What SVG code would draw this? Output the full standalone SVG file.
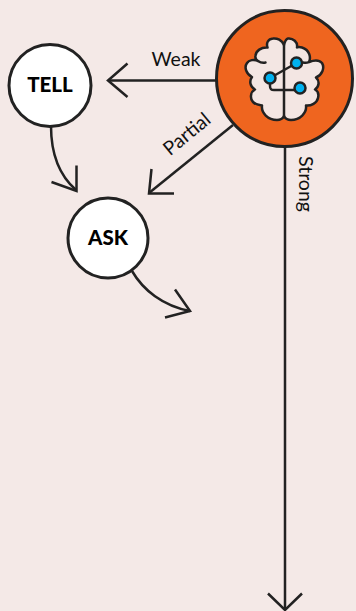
<svg xmlns="http://www.w3.org/2000/svg" width="356" height="611" viewBox="0 0 356 611">
<style>
.l{fill:none;stroke:#222;stroke-width:2.5}
.n{fill:#fff;stroke:#222;stroke-width:3}
.t{font-family:"Lato","Open Sans",sans-serif;font-size:19.500px;fill:#111}
.b{font-family:"Lato","Open Sans",sans-serif;font-size:20.500px;font-weight:900;fill:#000;text-anchor:middle}
.br{fill:#f3e6e3;stroke:#222;stroke-width:2.500;stroke-linejoin:round}
.w{fill:none;stroke:#222;stroke-width:2.500;stroke-linecap:round;stroke-linejoin:round}
.d{fill:#00b2f0;stroke:#222;stroke-width:2.500}
</style>
<rect width="356" height="611" fill="#f4e9e7"/>
<g id="connectors">
<path class="l" d="M216 80.500H108"/>
<path class="l" d="M127.500 63.500L108 80.500L127.500 97"/>
<path class="l" d="M233 125L149 193"/>
<path class="l" d="M151.500 169L149 193.500L174 193.500"/>
<path class="l" d="M285 147V608"/>
<path class="l" d="M268 593.500L285 610L302 593.500"/>
<path class="l" d="M51 126C51 155 60 176 76 190"/>
<path class="l" d="M76.500 165.500L76.500 191L51.500 182"/>
<path class="l" d="M132 271C143 290 163 306 190 311"/>
<path class="l" d="M175 289.500L190 311L165 317.500"/>
<text class="t" x="151.500" y="65.500">Weak</text>
<text class="t" transform="translate(170 156.500) rotate(-39.500)">Partial</text>
<text class="t" transform="translate(298.500 156) rotate(90)">Strong</text>
</g>
<g id="tell"><circle class="n" cx="50" cy="85.500" r="41"/><text class="b" x="50" y="92">TELL</text></g>
<g id="ask"><circle class="n" cx="108" cy="238" r="40"/><text class="b" x="108" y="244.500">ASK</text></g>
<g id="brain">
<circle cx="284.500" cy="78.500" r="68" fill="#ef651f" stroke="#222" stroke-width="3"/>
<path class="br" d="M284 45C282 40 277 38 273 38.500C268 39 266 43 267.500 47.500C261 47 256 51 255.500 55.500C255 58 256 60 258 61C254 59 249 60 247 63C244 67 246 74 252 77C249 81 250 87 255 89.500C250 92 250 99 253 102C256 105 259 105 262 105.500C261 113 268 120 277 120C281 120 283 118 284 116C285 118 287 120 291 120C300 120 307 113 306 105.500C311 106 317 103 318 98C319 94 318 91 315 89.500C319 87 320 81 316 77.500C322 75 325 68 322 63C319 59.500 314 60 309 62C311 58 310 50 302 47.500C300 47 298 47 297 47.500C298 42 293 38 288 38.500C286 39 285 41 284 45Z"/>
<path class="w" d="M284 45V116M258 61C261 63 263 63 265.500 62.500M309 62C307 63 305 63 303 62.500"/>
<path class="w" d="M270 78L296.500 63"/>
<path class="w" d="M270 78V86C270 89 271 90 274 90H300"/>
<circle class="d" cx="270" cy="78" r="5.500"/>
<circle class="d" cx="296.500" cy="63" r="5.500"/>
<circle class="d" cx="300" cy="88" r="5.500"/>
</g>
</svg>
